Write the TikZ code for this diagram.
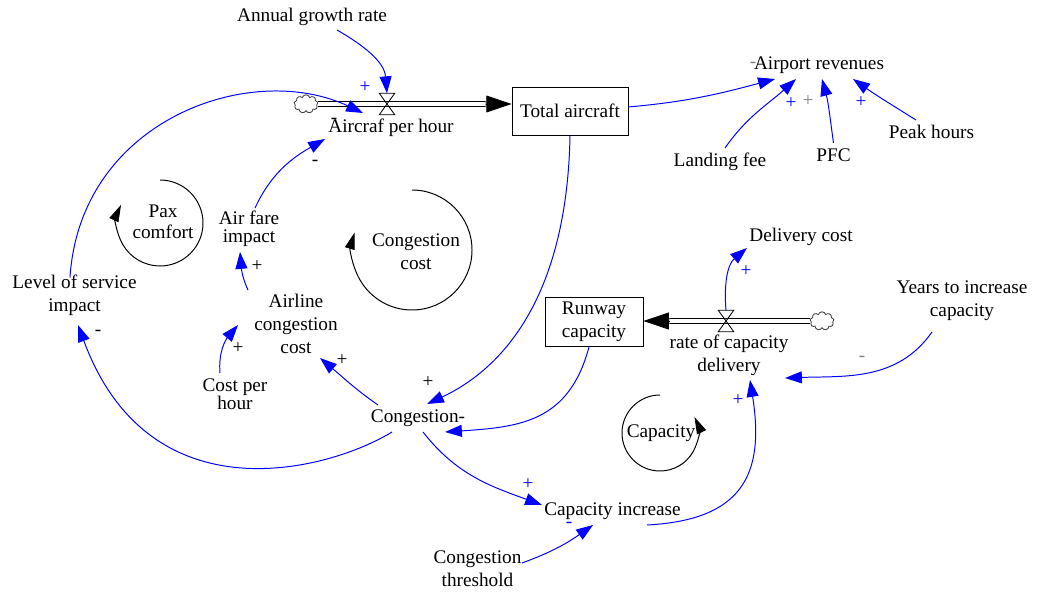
\documentclass[tikz,border=0pt]{standalone}
\usepackage{fontspec}
\setmainfont{Liberation Serif}
\usetikzlibrary{positioning,calc,shapes.symbols,arrows.meta}

\begin{document}
\begin{tikzpicture}[x=0.025cm, y=0.025cm,
    font=\fontsize{13.7}{16.3}\selectfont,
    var/.style={align=center, inner sep=1pt},
    tight/.style={var, font=\fontsize{13.7}{13}\selectfont},
    stock/.style={draw, line width=0.6pt, align=center},
    valve/.style={minimum width=0.375cm, minimum height=0.525cm, inner sep=0pt},
    source/.style={cloud, draw=black!75, line width=0.6pt, cloud puffs=9, aspect=1.4,
        minimum width=0.6cm, minimum height=0.46cm, inner sep=0pt},
    pipe/.style={double, double distance=2.8pt, line width=0.7pt},
    flowtip/.style={line width=0.6pt, -{Triangle[length=18pt,width=12pt]}},
    link/.style={blue, line width=0.7pt, -{Triangle[length=12pt,width=8.5pt]}},
    loopline/.style={line width=0.7pt, -{Triangle[length=12pt,width=7pt]}},
    sign/.style={inner sep=0pt}]

    \useasboundingbox (0,0) rectangle (1037,-596);

    % stocks, flows and clouds
    \node[stock, minimum width=2.9cm, minimum height=1.2cm] (ta) at (570,-111) {Total aircraft};
    \node[stock, minimum width=2.45cm, minimum height=1.225cm] (rc) at (594,-322) {Runway\\capacity};
    \node[source] (cl1) at (306,-104) {};
    \node[source] (cl2) at (822,-321) {};
    \node[valve] (v1) at (387,-104) {};
    \node[valve] (v2) at (726,-321) {};

    \draw[pipe] (cl1.east) -- ($(v1 -| ta.west)+(-26,0)$);
    \draw[flowtip] ($(v1 -| ta.west)+(-26,0)$) -- (v1 -| ta.west);
    \draw[pipe] (cl2.west) -- ($(v2 -| rc.east)+(26,0)$);
    \draw[flowtip] ($(v2 -| rc.east)+(26,0)$) -- (v2 -| rc.east);
    \draw[line width=0.6pt] (v1.north west) -- (v1.north east) -- (v1.south west) -- (v1.south east) -- cycle;
    \draw[line width=0.6pt] (v2.north west) -- (v2.north east) -- (v2.south west) -- (v2.south east) -- cycle;

    % variables
    \node[var] (agr) at (312,-17) {Annual growth rate};
    \node[var] (aph) at (391,-128) {Aircraf per hour};
    \node[var] (ar) at (819,-65) {Airport revenues};
    \node[var] (lf) at (720,-162) {Landing fee};
    \node[var] (pfc) at (833.5,-155) {PFC};
    \node[var] (ph) at (931.5,-132) {Peak hours};
    \node[var] (los) at (74.5,-295.5) {Level of service\\impact};
    \node[tight] (afi) at (249,-229) {Air fare\\impact};
    \node[var] (acc) at (296,-324) {Airline\\congestion\\cost};
    \node[tight] (cph) at (235,-394) {Cost per\\hour};
    \node[var] (cong) at (418,-418) {Congestion-};
    \node[var] (rcd) at (729,-355) {rate of capacity\\delivery};
    \node[var] (dc) at (801,-237) {Delivery cost};
    \node[var] (yic) at (962,-301) {Years to increase\\capacity};
    \node[var] (ci) at (612.5,-511) {Capacity increase};
    \node[var] (cth) at (477.5,-569) {Congestion\\threshold};

    % loops
    \coordinate (paxc) at (160,-223);
    \coordinate (ccc) at (412,-250);
    \coordinate (capc) at (660,-433);
    \node[var, font=\fontsize{13.7}{15}\selectfont] (pax) at (163,-222) {Pax\\comfort};
    \node[var] (cclabel) at (416,-252) {Congestion\\cost};
    \node[var] (caplabel) at (661,-433) {Capacity};
    \draw[loopline] ($(paxc)+(90:43)$) arc[start angle=90, end angle=-205, radius=43];
    \draw[loopline] ($(ccc)+(90:60)$) arc[start angle=90, end angle=-197, radius=60];
    \draw[loopline] ($(capc)+(90:38)$) arc[start angle=90, end angle=385, radius=38];

    % links
    \draw[link] ($(agr)+(25,-13)$) to[out=-30, in=95] (v1.north);
    \draw[link] ($(los)+(-4.5,18)$) .. controls +(10,157) and +(-113,53) .. ($(aph)+(-28,15)$);
    \draw[link] ($(afi)+(6,21)$) to[out=65, in=-150] ($(aph)+(-66,-11)$);
    \draw[link] ($(acc)+(-48,34)$) to[out=115, in=-85] ($(afi)+(-9,-23)$);
    \draw[link] ($(cph)+(-15,21)$) to[out=95, in=-130] ($(acc)+(-58,-1)$);
    \draw[link] ($(cong)+(-40,13)$) to[out=145, in=-40] ($(acc)+(24,-34)$);
    \draw[link] (ta.south) .. controls +(-3,-165) and +(73,34) .. ($(cong)+(9,14)$);
    \draw[link] ($(cong)+(-26,-14)$) .. controls +(-62,-38) and +(72,-195) .. ($(los)+(3.5,-29.5)$);
    \draw[link] ($(rc.south)+(-5,0)$) .. controls +(-20,-75) and +(75,5) .. ($(cong)+(27,-14)$);
    \draw[link] ($(cong)+(5,-14)$) to[out=-52, in=160] ($(ci)+(-70.5,6)$);
    \draw[link] ($(cth)+(44.5,6)$) to[out=20, in=-145] ($(ci)+(-19.5,-14)$);
    \draw[link] ($(ci)+(34.5,-14)$) .. controls +(95,5) and +(15,-95) .. ($(rcd)+(21,-25)$);
    \draw[link] ($(yic)+(-30,-31)$) to[out=-125, in=2] ($(rcd)+(56,-23)$);
    \draw[link] (v2.north) to[out=95, in=-140] ($(dc)+(-54,-11)$);
    \draw[link] ($(ta)+(58,4)$) to[out=5, in=-165] ($(ar)+(-44,-14)$);
    \draw[link] ($(lf)+(5,14)$) to[out=55, in=-138] ($(ar)+(-23,-14)$);
    \draw[link] ($(pfc)+(0,12)$) to[out=98, in=-75] ($(ar)+(3,-14)$);
    \draw[link] ($(ph)+(-15.5,12)$) to[out=148, in=-35] ($(ar)+(34,-14)$);

    % polarities
    \node[sign, blue] (s1) at (365,-87) {+};
    \node[sign] (s2) at (334,-121) {-};
    \node[sign] (s3) at (315,-163) {-};
    \node[sign] (s4) at (257,-266) {+};
    \node[sign] (s5) at (238,-348) {+};
    \node[sign] (s6) at (342,-360) {+};
    \node[sign] (s7) at (428,-382) {+};
    \node[sign] (s8) at (98,-333) {-};
    \node[sign, blue] (s9) at (528,-484) {+};
    \node[sign, blue] (s10) at (569,-525) {-};
    \node[sign, blue] (s11) at (738,-400) {+};
    \node[sign, gray] (s12) at (862,-359) {-};
    \node[sign, blue] (s13) at (746,-271) {+};
    \node[sign, blue] (s14) at (791,-103) {+};
    \node[sign, gray] (s15) at (808,-101) {+};
    \node[sign, blue] (s16) at (861,-102) {+};
    \node[sign, gray] (s17) at (753,-65) {-};
\end{tikzpicture}
\end{document}
